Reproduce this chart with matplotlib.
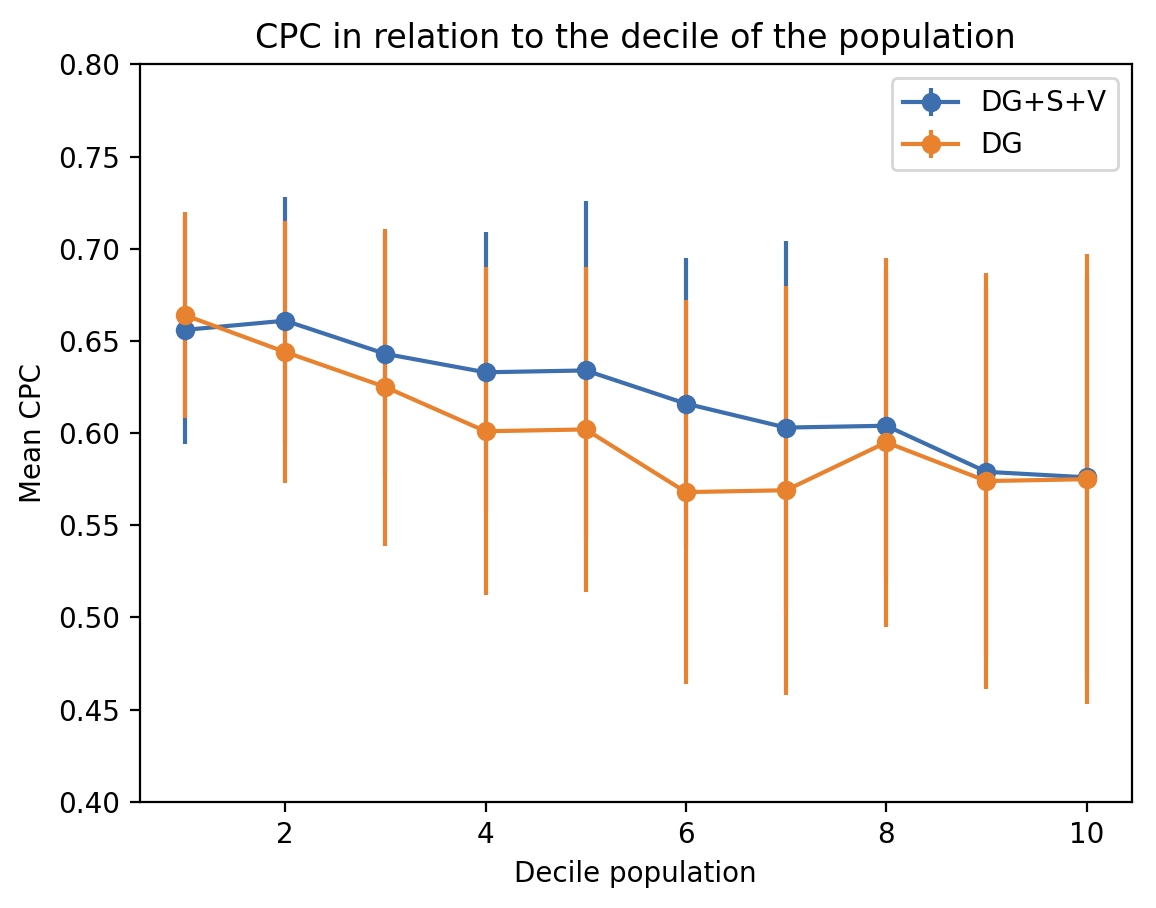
import matplotlib
matplotlib.use('Agg')
import matplotlib.pyplot as plt

# deciles of the population
deciles = [1, 2, 3, 4, 5, 6, 7, 8, 9, 10]

# DG+S+V mean CPC and std
cpc_dgsv = [0.656, 0.661, 0.643, 0.633, 0.634, 0.616, 0.603, 0.604, 0.579, 0.576]
err_dgsv = [0.062, 0.067, 0.065, 0.076, 0.092, 0.079, 0.101, 0.085, 0.100, 0.110]

# DG mean CPC and std
cpc_dg = [0.664, 0.644, 0.625, 0.601, 0.602, 0.568, 0.569, 0.595, 0.574, 0.575]
err_dg = [0.056, 0.071, 0.086, 0.089, 0.088, 0.104, 0.111, 0.100, 0.113, 0.122]

fig = plt.figure(figsize=(5.78, 4.54), dpi=200)
ax = fig.add_axes([0.121, 0.117, 0.858, 0.812])

ax.errorbar(deciles, cpc_dgsv, yerr=err_dgsv, marker='o', label='DG+S+V', color='#3d6ead')
ax.errorbar(deciles, cpc_dg, yerr=err_dg, marker='o', label='DG', color='#e8822e')

ax.set_ylim(0.4, 0.8)
ax.set_xlabel('Decile population')
ax.set_ylabel('Mean CPC')
ax.set_title('CPC in relation to the decile of the population')
ax.legend(loc='upper right')

fig.savefig('out.png', dpi=200)
